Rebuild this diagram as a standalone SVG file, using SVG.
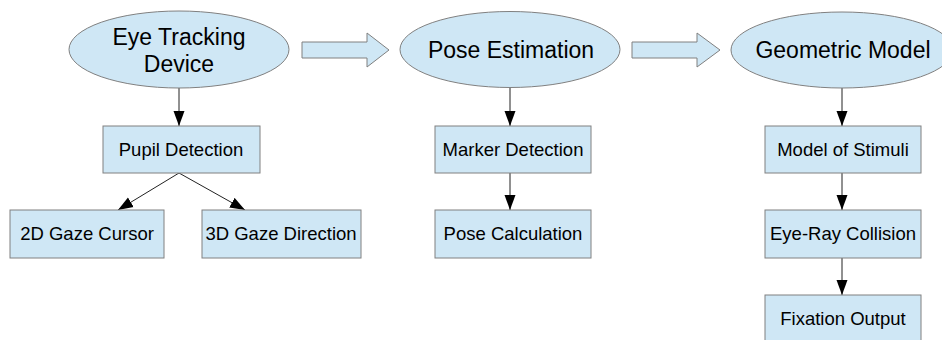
<svg xmlns="http://www.w3.org/2000/svg" width="942" height="340" viewBox="0 0 942 340">
<defs>
<style>
.n{fill:#cfe7f5;stroke:#808080;stroke-width:1}
.t{font-family:"Liberation Sans",Arial,sans-serif;fill:#000;text-anchor:middle}
.big{font-size:23px}
.sm{font-size:18.5px}
.c{stroke:#222;stroke-width:1;fill:none;marker-end:url(#ah)}
</style>
<marker id="ah" markerWidth="15" markerHeight="12" refX="15" refY="6" orient="auto" markerUnits="userSpaceOnUse" viewBox="0 0 15 12">
<path d="M0,0.5 L15,6 L0,11.5 Z" fill="#000"/>
</marker>
</defs>
<rect width="942" height="340" fill="#fff"/>
<g id="connectors">
<path class="n" d="M302,42 H367 V33 L389,50 L367,67 V58 H302 Z"/>
<path class="n" d="M632,42 H697 V33 L720,50 L697,67 V58 H632 Z"/>
<line class="c" x1="179" y1="88" x2="179" y2="126"/>
<line class="c" x1="179" y1="173" x2="118" y2="210"/>
<line class="c" x1="179" y1="173" x2="245" y2="210"/>
<line class="c" x1="510" y1="87" x2="510" y2="126"/>
<line class="c" x1="510" y1="173" x2="510" y2="210"/>
<line class="c" x1="842" y1="88" x2="842" y2="126"/>
<line class="c" x1="842" y1="173" x2="842" y2="210"/>
<line class="c" x1="842" y1="258" x2="842" y2="295"/>
</g>
<g id="eye-tracking">
<ellipse class="n" cx="179" cy="49.5" rx="110" ry="38.5"/>
<text class="t big" x="179" y="45">Eye Tracking</text>
<text class="t big" x="179" y="72">Device</text>
</g>
<g id="pose-estimation">
<ellipse class="n" cx="510" cy="49.5" rx="110" ry="38"/>
<text class="t big" x="511" y="58">Pose Estimation</text>
</g>
<g id="geometric-model">
<ellipse class="n" cx="842" cy="50" rx="111" ry="38"/>
<text class="t big" x="843" y="58">Geometric Model</text>
</g>
<g id="pupil-detection">
<rect class="n" x="103" y="126" width="157" height="47"/>
<text class="t sm" x="181" y="156">Pupil Detection</text>
</g>
<g id="gaze-2d">
<rect class="n" x="10" y="210" width="154" height="48"/>
<text class="t sm" x="87" y="240">2D Gaze Cursor</text>
</g>
<g id="gaze-3d">
<rect class="n" x="202" y="210" width="159" height="48"/>
<text class="t sm" x="281" y="240">3D Gaze Direction</text>
</g>
<g id="marker-detection">
<rect class="n" x="435" y="126" width="156" height="47"/>
<text class="t sm" x="513" y="156">Marker Detection</text>
</g>
<g id="pose-calculation">
<rect class="n" x="435" y="210" width="156" height="48"/>
<text class="t sm" x="513" y="240">Pose Calculation</text>
</g>
<g id="model-of-stimuli">
<rect class="n" x="765" y="126" width="156" height="47"/>
<text class="t sm" x="843" y="156">Model of Stimuli</text>
</g>
<g id="eye-ray-collision">
<rect class="n" x="765" y="210" width="156" height="48"/>
<text class="t sm" x="843" y="240">Eye-Ray Collision</text>
</g>
<g id="fixation-output">
<rect class="n" x="765" y="295" width="156" height="48"/>
<text class="t sm" x="843" y="325">Fixation Output</text>
</g>
</svg>
